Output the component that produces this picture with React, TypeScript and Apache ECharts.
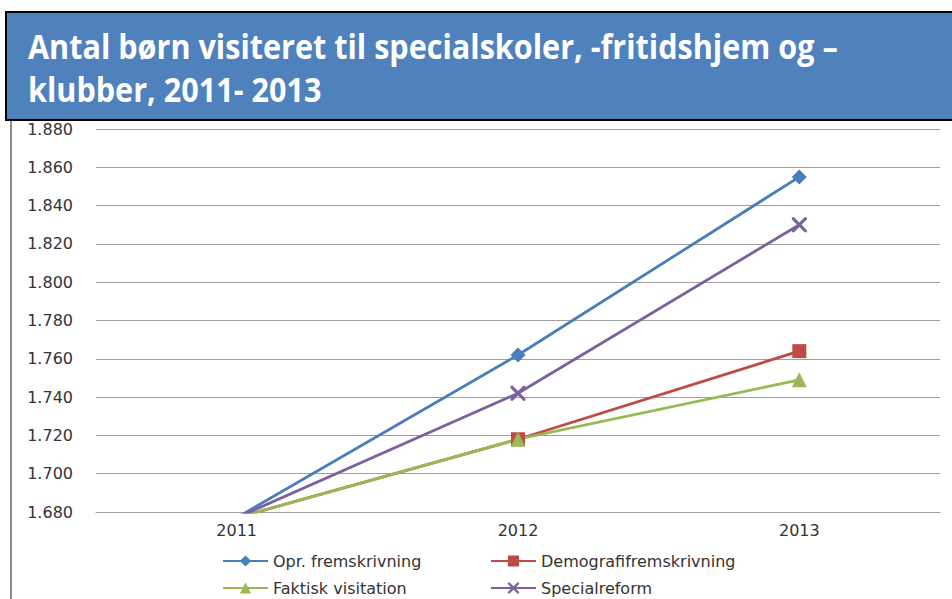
import React, { useEffect, useRef } from "react";
import * as echarts from "echarts";

const categories = ["2011", "2012", "2013"];
const seriesNames = ["Opr. fremskrivning", "Demografifremskrivning", "Faktisk visitation", "Specialreform"];
const oprValues = [1677, 1762, 1855];
const demoValues = [1677, 1718, 1764];
const faktiskValues = [1677, 1718, 1749];
const specialValues = [1677, 1742, 1830];
const titleLines = ["Antal børn visiteret til specialskoler, -fritidshjem og –", "klubber, 2011- 2013"];
const yMin = 1680;
const yMax = 1880;
const yStep = 20;

const xSymbol = "path://M0,0L1.5,0L5,3.5L8.5,0L10,0L10,1.5L6.5,5L10,8.5L10,10L8.5,10L5,6.5L1.5,10L0,10L0,8.5L3.5,5L0,1.5Z";

export default function App() {
  const ref = useRef<HTMLDivElement>(null);
  useEffect(() => {
    if (!ref.current) return;
    const chart = echarts.init(ref.current, null, { renderer: "svg" });
    const colors = ["#4A7EBB", "#BE4B48", "#98B954", "#7D60A0"];
    const symbols = ["diamond", "rect", "triangle", xSymbol];
    const sizes = [15, 14, 15, 15];
    const values = [oprValues, demoValues, faktiskValues, specialValues];
    const legendPos = [
      { left: 222, top: 553 },
      { left: 490, top: 553 },
      { left: 222, top: 580 },
      { left: 490, top: 580 },
    ];
    chart.setOption({
      animation: false,
      backgroundColor: "#ffffff",
      grid: { left: 96, right: 12, top: 129, bottom: 87 },
      xAxis: {
        type: "category",
        data: categories,
        boundaryGap: true,
        axisLine: { show: true, lineStyle: { color: "#A0A0A0", width: 1 } },
        axisTick: { show: false },
        axisLabel: { color: "#333", fontFamily: "DejaVu Sans", fontSize: 16, margin: 10 },
      },
      yAxis: {
        type: "value",
        min: yMin,
        max: yMax,
        interval: yStep,
        axisLine: { show: false },
        axisTick: { show: false },
        splitLine: { lineStyle: { color: "#A0A0A0", width: 1 } },
        axisLabel: {
          color: "#333",
          fontFamily: "DejaVu Sans",
          fontSize: 16,
          margin: 23,
          formatter: (v: number) => (v / 1000).toFixed(3),
        },
      },
      legend: seriesNames.map((n, i) => ({
        data: [n],
        left: legendPos[i].left,
        top: legendPos[i].top,
        padding: 0,
        itemWidth: 45,
        itemHeight: 14,
        itemGap: 0,
        textStyle: { color: "#333", fontFamily: "DejaVu Sans", fontSize: 16 },
      })),
      graphic: [
        {
          type: "rect",
          shape: { x: 6, y: 12, width: 960, height: 108 },
          style: { fill: "#4F81BD", stroke: "#000", lineWidth: 2 },
        },
        {
          type: "line",
          shape: { x1: 11, y1: 121, x2: 11, y2: 599 },
          style: { stroke: "#8a8a8a", lineWidth: 2 },
        },
        ...titleLines.map((t, i) => ({
          type: "text",
          x: 28,
          y: i === 0 ? 45 : 88,
          scaleX: 0.9,
          style: {
            text: t,
            fill: "#ffffff",
            font: 'bold 34px "Open Sans"',
            verticalAlign: "middle",
          },
        })),
      ],
      series: seriesNames.map((n, i) => ({
        name: n,
        type: "line",
        data: values[i],
        symbol: symbols[i],
        symbolSize: sizes[i],
        showSymbol: true,
        clip: true,
        itemStyle: { color: colors[i] },
        lineStyle: { color: colors[i], width: 2.8 },
      })),
    });
    return () => chart.dispose();
  }, []);
  return <div ref={ref} style={{ position: "fixed", left: 0, top: 0, width: 952, height: 599 }} />;
}
